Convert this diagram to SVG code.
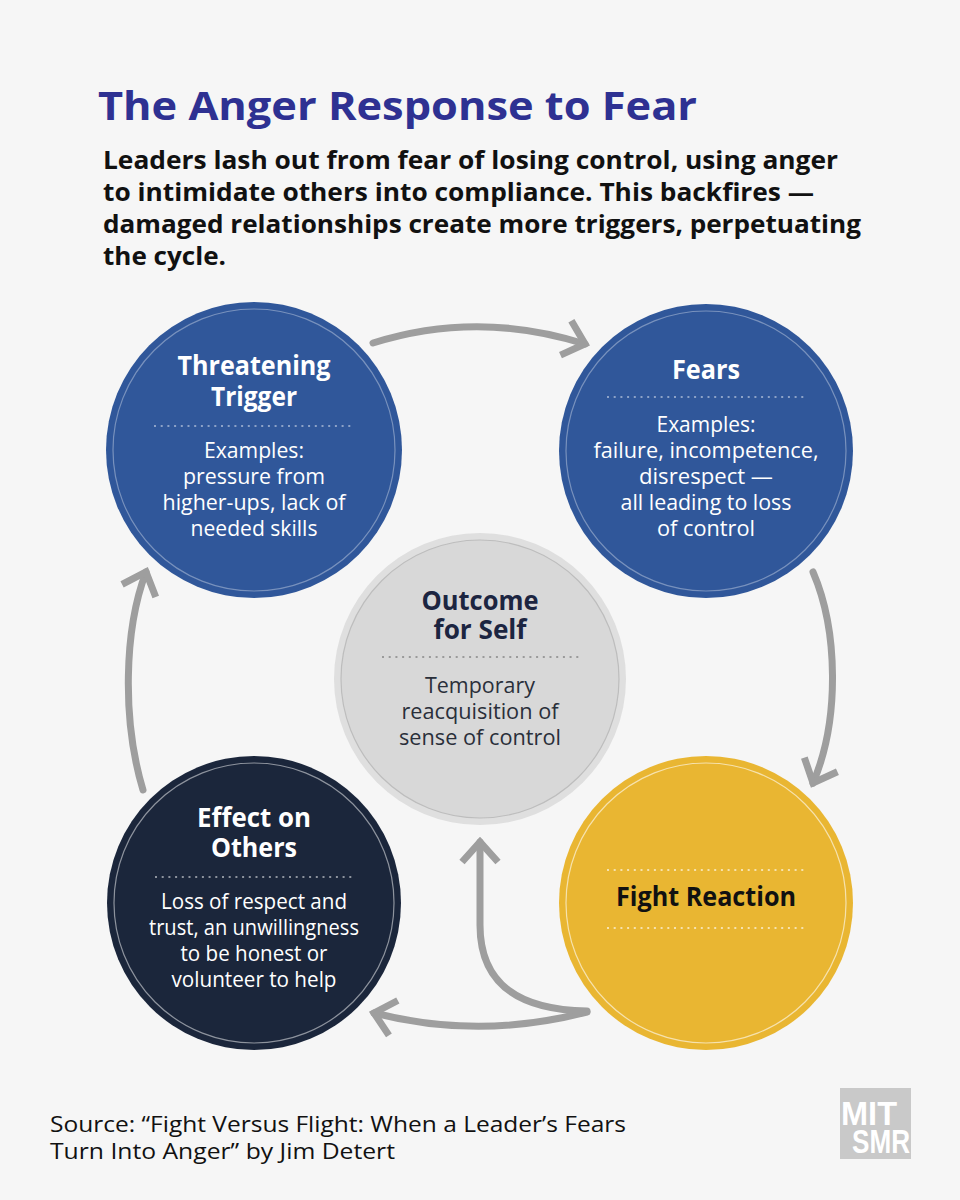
<svg xmlns="http://www.w3.org/2000/svg" width="960" height="1200" viewBox="0 0 960 1200">
<defs>
<style>
.h{font-family:"Open Sans","Noto Sans","DejaVu Sans",sans-serif;font-weight:700;font-size:26px;text-anchor:middle}
.b{font-family:"Open Sans","Noto Sans","DejaVu Sans",sans-serif;font-weight:400;font-size:21px;text-anchor:middle}
.w{fill:#ffffff}
.conn path{fill:none;stroke:#9e9e9e;stroke-width:7;stroke-linecap:round}
.dot{fill:none;stroke-width:2;stroke-dasharray:2 4.7}
.ring{fill:none;stroke-width:1.2}
</style>
<marker id="chev" markerUnits="userSpaceOnUse" viewBox="-30 -30 40 60" markerWidth="40" markerHeight="60" refX="0" refY="0" orient="auto" overflow="visible">
<path d="M -20 -18 L 0 0 L -20 18" fill="none" stroke="#9e9e9e" stroke-width="7" stroke-linejoin="miter" stroke-linecap="butt"/>
</marker>
</defs>
<rect x="0" y="0" width="960" height="1200" fill="#f6f6f6"/>

<g id="header">
<text x="98" y="120" font-family="'Open Sans','Noto Sans',sans-serif" font-weight="700" font-size="40" fill="#2e3192" textLength="599" lengthAdjust="spacingAndGlyphs">The Anger Response to Fear</text>
<g font-family="'Open Sans','Noto Sans',sans-serif" font-weight="700" font-size="25" fill="#111111">
<text x="103" y="169" textLength="735" lengthAdjust="spacingAndGlyphs">Leaders lash out from fear of losing control, using anger</text>
<text x="103" y="201" textLength="711" lengthAdjust="spacingAndGlyphs">to intimidate others into compliance. This backfires —</text>
<text x="103" y="233" textLength="758" lengthAdjust="spacingAndGlyphs">damaged relationships create more triggers, perpetuating</text>
<text x="103" y="265" textLength="123" lengthAdjust="spacingAndGlyphs">the cycle.</text>
</g>
</g>

<g id="connectors" class="conn">
<path d="M 373 343 Q 478 310 585 344" marker-end="url(#chev)"/>
<path d="M 813 572 C 838 630, 840 720, 813 783" marker-end="url(#chev)"/>
<path d="M 143 790 C 122 720, 124 630, 146 572" marker-end="url(#chev)"/>
<path d="M 587 1012 Q 480 1040 374 1013" marker-end="url(#chev)"/>
<path d="M 587 1011 C 520 1010, 480 985, 480 925 L 480 842" marker-end="url(#chev)"/>
</g>

<g id="threatening-trigger">
<circle cx="254" cy="450" r="148" fill="#30579a"/>
<circle class="ring" cx="254" cy="450" r="141" stroke="#ffffff" stroke-opacity="0.35"/>
<text class="h w" x="254" y="375" textLength="153" lengthAdjust="spacingAndGlyphs">Threatening</text>
<text class="h w" x="254" y="406" textLength="86" lengthAdjust="spacingAndGlyphs">Trigger</text>
<line class="dot" x1="154" y1="426" x2="354" y2="426" stroke="#ffffff" stroke-opacity="0.45"/>
<text class="b w" x="254" y="458" textLength="100" lengthAdjust="spacingAndGlyphs">Examples:</text>
<text class="b w" x="254" y="484" textLength="142" lengthAdjust="spacingAndGlyphs">pressure from</text>
<text class="b w" x="254" y="510" textLength="183" lengthAdjust="spacingAndGlyphs">higher-ups, lack of</text>
<text class="b w" x="254" y="536" textLength="127" lengthAdjust="spacingAndGlyphs">needed skills</text>
</g>

<g id="fears">
<circle cx="706" cy="451" r="147" fill="#30579a"/>
<circle class="ring" cx="706" cy="451" r="140" stroke="#ffffff" stroke-opacity="0.35"/>
<text class="h w" x="706" y="379" textLength="68" lengthAdjust="spacingAndGlyphs">Fears</text>
<line class="dot" x1="607" y1="397" x2="807" y2="397" stroke="#ffffff" stroke-opacity="0.45"/>
<text class="b w" x="706" y="432" textLength="99" lengthAdjust="spacingAndGlyphs">Examples:</text>
<text class="b w" x="706" y="458" textLength="225" lengthAdjust="spacingAndGlyphs">failure, incompetence,</text>
<text class="b w" x="706" y="484" textLength="134" lengthAdjust="spacingAndGlyphs">disrespect —</text>
<text class="b w" x="706" y="510" textLength="171" lengthAdjust="spacingAndGlyphs">all leading to loss</text>
<text class="b w" x="706" y="536" textLength="98" lengthAdjust="spacingAndGlyphs">of control</text>
</g>

<g id="outcome-for-self">
<circle cx="480" cy="679" r="146" fill="#dfdfdf"/>
<circle cx="480" cy="679" r="139" fill="#d8d8d8" stroke="#bdbdbd" stroke-width="1.2"/>
<text class="h" x="480" y="610" fill="#1c2541" textLength="117" lengthAdjust="spacingAndGlyphs">Outcome</text>
<text class="h" x="480" y="639" fill="#1c2541" textLength="93" lengthAdjust="spacingAndGlyphs">for Self</text>
<line class="dot" x1="382" y1="657" x2="582" y2="657" stroke="#9a9a9a"/>
<text class="b" x="480" y="693" fill="#2a2f3a" textLength="110" lengthAdjust="spacingAndGlyphs">Temporary</text>
<text class="b" x="480" y="719" fill="#2a2f3a" textLength="157" lengthAdjust="spacingAndGlyphs">reacquisition of</text>
<text class="b" x="480" y="745" fill="#2a2f3a" textLength="162" lengthAdjust="spacingAndGlyphs">sense of control</text>
</g>

<g id="effect-on-others">
<circle cx="254" cy="903" r="147" fill="#1b263b"/>
<circle class="ring" cx="254" cy="903" r="140" stroke="#ffffff" stroke-opacity="0.5"/>
<text class="h w" x="254" y="827" textLength="114" lengthAdjust="spacingAndGlyphs">Effect on</text>
<text class="h w" x="254" y="857" textLength="86" lengthAdjust="spacingAndGlyphs">Others</text>
<line class="dot" x1="155" y1="877" x2="353" y2="877" stroke="#ffffff" stroke-opacity="0.5"/>
<text class="b w" x="254" y="909" textLength="186" lengthAdjust="spacingAndGlyphs">Loss of respect and</text>
<text class="b w" x="254" y="935" textLength="210" lengthAdjust="spacingAndGlyphs">trust, an unwillingness</text>
<text class="b w" x="254" y="961" textLength="147" lengthAdjust="spacingAndGlyphs">to be honest or</text>
<text class="b w" x="254" y="987" textLength="165" lengthAdjust="spacingAndGlyphs">volunteer to help</text>
</g>

<g id="fight-reaction">
<circle cx="706" cy="903" r="147" fill="#e9b632"/>
<circle class="ring" cx="706" cy="903" r="140" stroke="#ffffff" stroke-opacity="0.6"/>
<line class="dot" x1="607" y1="870" x2="807" y2="870" stroke="#ffffff" stroke-opacity="0.6"/>
<text class="h" x="706" y="906" fill="#111111" textLength="180" lengthAdjust="spacingAndGlyphs">Fight Reaction</text>
<line class="dot" x1="607" y1="928" x2="807" y2="928" stroke="#ffffff" stroke-opacity="0.6"/>
</g>

<g id="footer">
<g font-family="'Open Sans','Noto Sans',sans-serif" font-weight="400" font-size="22" fill="#111111">
<text x="50" y="1132" textLength="576" lengthAdjust="spacingAndGlyphs">Source: “Fight Versus Flight: When a Leader’s Fears</text>
<text x="50" y="1159" textLength="345" lengthAdjust="spacingAndGlyphs">Turn Into Anger” by Jim Detert</text>
</g>
<g id="logo">
<rect x="840" y="1088" width="71" height="71" fill="#c9c9c9"/>
<text x="841" y="1125" font-family="'Liberation Sans',Arial,sans-serif" font-weight="700" font-size="34" fill="#ffffff" textLength="56" lengthAdjust="spacingAndGlyphs">MIT</text>
<text x="852" y="1153" font-family="'Liberation Sans',Arial,sans-serif" font-weight="700" font-size="34" fill="#ffffff" textLength="58" lengthAdjust="spacingAndGlyphs">SMR</text>
</g>
</g>
</svg>
